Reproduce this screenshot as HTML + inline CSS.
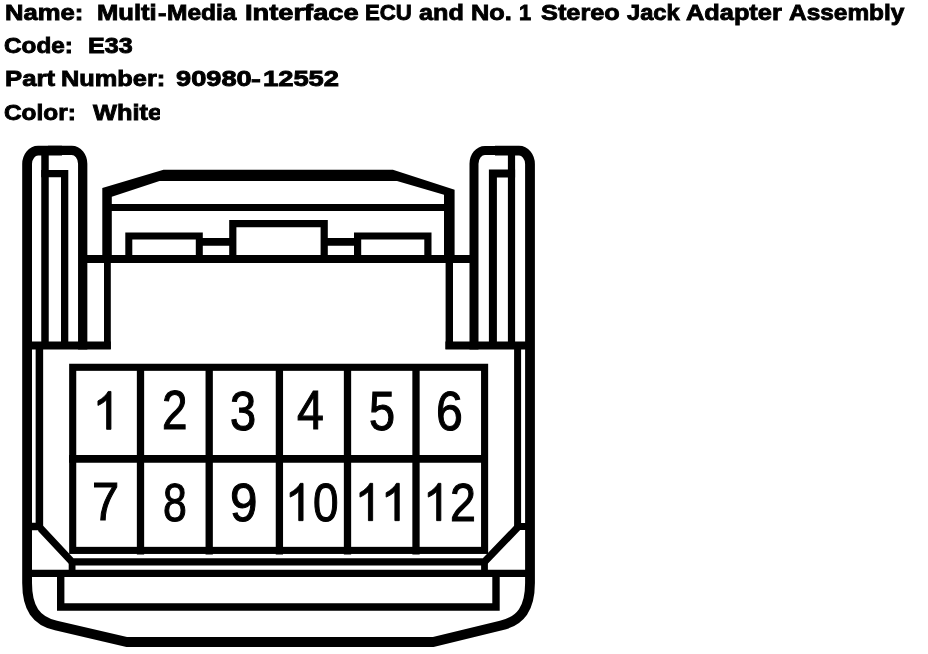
<!DOCTYPE html>
<html><head><meta charset="utf-8"><title>E33 connector</title>
<style>
html,body{margin:0;padding:0;background:#fff;}
body{width:928px;height:654px;position:relative;overflow:hidden;font-family:"Liberation Sans",sans-serif;color:#000;}
#all{position:absolute;left:0;top:0;width:928px;height:654px;will-change:transform;overflow:hidden;}
.w{position:absolute;white-space:pre;color:#000;font-family:"Liberation Sans",sans-serif;font-weight:bold;font-size:22.8px;line-height:40px;-webkit-text-stroke:0.9px #000;transform-origin:0 0;}
.d{position:absolute;white-space:pre;color:#000;font-family:"Liberation Sans",sans-serif;font-weight:normal;font-size:53.5px;line-height:70px;-webkit-text-stroke:1.1px #000;transform-origin:0 0;}
svg{position:absolute;left:0;top:0;}
#cut{position:absolute;left:159.6px;top:98px;width:12px;height:28px;background:#fff;}
</style></head><body><div id="all">
<svg width="928" height="654" viewBox="0 0 928 654" fill="none" stroke="#000" stroke-linecap="butt" stroke-linejoin="miter">
<!-- outer body: left post outer, left side, bottom curve, right side, right post outer -->
<path d="M62,150.6 L38.1,150.6 A11,13.5 0 0 0 27.1,164.1 L27.1,583 C27.1,608 36,621 56,625.5 L127,642 L433,642 L501,625.5 C521,621 530.0,608 530.0,583 L530.0,164.1 A11,13.5 0 0 0 519.0,150.6 L495,150.6" stroke-width="9.8"/>
<path d="M48,150.4 L71.7,150.4 A11,13.5 0 0 1 82.7,164.1 L82.7,349.6" stroke-width="9.3"/>
<path d="M509,150.4 L485.0,150.4 A11,13.5 0 0 0 474.0,164.1 L474.0,349.6" stroke-width="9"/>
<!-- left post inner -->
<path d="M45,154 L45,345" stroke-width="7.5"/>
<path d="M41.25,173.6 L64.65,173.6 L64.65,345" stroke-width="7.3"/>
<!-- right post inner -->
<path d="M511.5,154 L511.5,345" stroke-width="7.2"/>
<path d="M515.1,173.6 L492.9,173.6 L492.9,345" stroke-width="8"/>
<!-- post bottom horizontals -->
<path d="M27,345.6 L110.8,345.6" stroke-width="8"/>
<path d="M445.4,345.5 L530,345.5" stroke-width="8"/>
<!-- inner side verticals below posts -->
<path d="M39.4,345 L39.4,526.5 L30,526.5" stroke-width="7.5"/>
<path d="M517.6,345 L517.6,526.5 L528,526.5" stroke-width="7"/>
<!-- lid verticals (below 259) -->
<path d="M107.4,259 L107.4,349" stroke-width="6.8"/>
<path d="M449.3,259 L449.3,349" stroke-width="7.4"/>
<!-- lid top polygon (filled) -->
<path d="M102.3,259 L102.3,188 L163.5,169.7 L392.9,169.7 L454.6,189.8 L454.6,259 L444,259 L444,194.8 L397,181 L159.5,181 L111.8,196.8 L111.8,259 Z" fill="#000" stroke="none"/>
<!-- lid lines -->
<path d="M107,207.5 L449,207.5" stroke-width="7"/>
<path d="M83,259 L474,259" stroke-width="8"/>
<!-- lid small rects -->
<path d="M128.8,259 L128.8,236 L199.3,236 L199.3,259" stroke-width="7"/>
<path d="M232.8,259 L232.8,223.6 L324.2,223.6 L324.2,259" stroke-width="7.2"/>
<path d="M357.6,259 L357.6,236 L427.9,236 L427.9,259" stroke-width="7.2"/>
<path d="M199,241.9 L233,241.9 M324,241.9 L358,241.9" stroke-width="7.9"/>
<!-- grid -->
<rect x="72.7" y="367.3" width="411.9" height="183.1" stroke-width="7.1"/>
<path d="M69,458.8 L488,458.8" stroke-width="7.8"/>
<path d="M140.5,364 L140.5,554.6 M209.2,364 L209.2,554.6 M279.4,364 L279.4,554.6 M347.5,364 L347.5,554.6 M416,364 L416,554.6" stroke-width="7.3"/>
<!-- bottom lines -->
<path d="M40.5,528.2 L72,561.9 L484.5,561.9 L518,527" stroke-width="7.3"/>
<path d="M72.1,560 L72.1,577 M484.5,560 L484.5,577" stroke-width="6.8"/>
<path d="M27,573.3 L530,573.3" stroke-width="7.2"/>
<path d="M60.7,573 L60.7,607 L496,607 L496,573" stroke-width="7.4"/>
<path transform="matrix(0.02407,0,0,-0.02575,92.58,429.35)" d="M763 0H583V1147Q518 1085 412.5 1023Q307 961 223 930V1104Q374 1175 487 1276Q600 1377 647 1472H763Z" fill="#000" stroke="#000" stroke-width="35.0"/>
<path transform="matrix(0.02389,0,0,-0.02534,284.82,520.65)" d="M763 0H583V1147Q518 1085 412.5 1023Q307 961 223 930V1104Q374 1175 487 1276Q600 1377 647 1472H763Z" fill="#000" stroke="#000" stroke-width="35.5"/>
<path transform="matrix(0.02352,0,0,-0.02534,354.71,520.65)" d="M763 0H583V1147Q518 1085 412.5 1023Q307 961 223 930V1104Q374 1175 487 1276Q600 1377 647 1472H763Z" fill="#000" stroke="#000" stroke-width="35.5"/>
<path transform="matrix(0.02426,0,0,-0.02534,380.74,520.65)" d="M763 0H583V1147Q518 1085 412.5 1023Q307 961 223 930V1104Q374 1175 487 1276Q600 1377 647 1472H763Z" fill="#000" stroke="#000" stroke-width="35.5"/>
<path transform="matrix(0.02333,0,0,-0.02534,423.05,520.65)" d="M763 0H583V1147Q518 1085 412.5 1023Q307 961 223 930V1104Q374 1175 487 1276Q600 1377 647 1472H763Z" fill="#000" stroke="#000" stroke-width="35.5"/>
</svg>

<span class="w" style="left:4.78px;top:-7.70px;transform:scale(1.1239,1)">Name:</span>
<span class="w" style="left:96.68px;top:-7.70px;transform:scale(1.1216,1)">Multi</span>
<span class="w" style="left:157.54px;top:-7.70px;transform:scale(1.1111,1)">-</span>
<span class="w" style="left:167.02px;top:-7.70px;transform:scale(1.0755,1)">Media</span>
<span class="w" style="left:244.80px;top:-7.70px;transform:scale(1.1957,1)">Interface</span>
<span class="w" style="left:365.03px;top:-7.70px;transform:scale(0.9730,1)">ECU</span>
<span class="w" style="left:419.47px;top:-7.70px;transform:scale(1.1045,1)">and</span>
<span class="w" style="left:470.79px;top:-7.70px;transform:scale(1.1116,1)">No.</span>
<span class="w" style="left:519.04px;top:-7.70px;transform:scale(0.9565,1)">1</span>
<span class="w" style="left:540.72px;top:-7.70px;transform:scale(1.1103,1)">Stereo</span>
<span class="w" style="left:626.51px;top:-7.70px;transform:scale(1.0386,1)">Jack</span>
<span class="w" style="left:686.00px;top:-7.70px;transform:scale(1.1119,1)">Adapter</span>
<span class="w" style="left:789.10px;top:-7.70px;transform:scale(1.0716,1)">Assembly</span>
<span class="w" style="left:4.37px;top:25.25px;transform:scale(1.0659,1)">Code:</span>
<span class="w" style="left:87.65px;top:25.25px;transform:scale(1.0994,1)">E33</span>
<span class="w" style="left:4.87px;top:58.30px;transform:scale(1.1264,1)">Part</span>
<span class="w" style="left:61.14px;top:58.30px;transform:scale(1.1126,1)">Number:</span>
<span class="w" style="left:175.70px;top:58.30px;transform:scale(1.1936,1)">90980</span>
<span class="w" style="left:251.26px;top:58.30px;transform:scale(1.2889,1)">-</span>
<span class="w" style="left:262.55px;top:58.30px;transform:scale(1.1992,1)">12552</span>
<span class="w" style="left:4.36px;top:92.25px;transform:scale(1.0703,1)">Color:</span>
<span class="w" style="left:92.81px;top:92.25px;transform:scale(1.1124,1)">White</span>
<span class="d" style="left:161.88px;top:375.00px;transform:scale(0.8554,1.0248)">2</span>
<span class="d" style="left:230.48px;top:375.13px;transform:scale(0.8792,1.0297)">3</span>
<span class="d" style="left:297.12px;top:374.84px;transform:scale(0.9000,1.0278)">4</span>
<span class="d" style="left:368.59px;top:374.69px;transform:scale(0.8755,1.0379)">5</span>
<span class="d" style="left:435.77px;top:374.85px;transform:scale(0.9010,1.0348)">6</span>
<span class="d" style="left:91.94px;top:467.09px;transform:scale(0.9149,1.0040)">7</span>
<span class="d" style="left:162.60px;top:468.36px;transform:scale(0.8000,1.0065)">8</span>
<span class="d" style="left:229.95px;top:468.32px;transform:scale(0.9243,1.0090)">9</span>
<span class="d" style="left:312.91px;top:467.25px;transform:scale(0.8598,1.0142)">0</span>
<span class="d" style="left:450.04px;top:468.39px;transform:scale(0.8713,1.0039)">2</span>
<div id="cut"></div>
</div></body></html>
